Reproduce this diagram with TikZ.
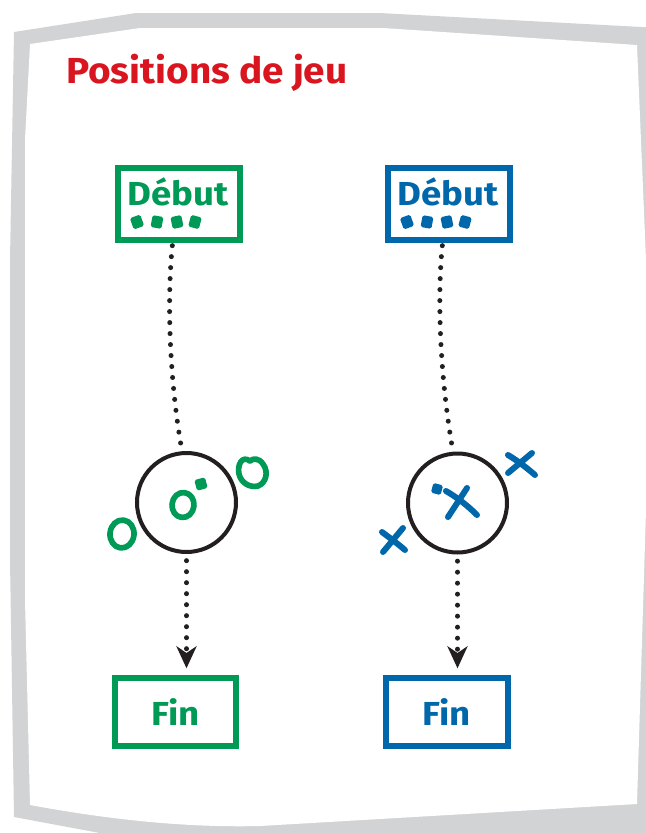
\documentclass[tikz,border=0pt]{standalone}
\usepackage{fontspec}
\setmainfont{Fira Sans}
\usetikzlibrary{arrows.meta,calc}
\definecolor{vert}{HTML}{009A57}
\definecolor{bleu}{HTML}{0068AA}
\definecolor{rouge}{HTML}{D9161F}
\definecolor{gris}{HTML}{D1D3D4}
\definecolor{noir}{HTML}{231F20}
\tikzset{
  boite/.style={rectangle, line width=0.18cm, inner sep=0pt, font=\fontsize{28.4}{32}\selectfont\bfseries\addfontfeature{FakeStretch=1.1}},
  rond/.style={circle, draw=noir, line width=0.12cm, inner sep=0pt, minimum size=2.97cm},
  etiq/.style={inner sep=0pt, font=\fontsize{28.4}{32}\selectfont\bfseries\addfontfeature{FakeStretch=1.1}},
  pointille/.style={draw=noir, line width=0.15cm, line cap=round, dash pattern=on 0pt off 0.33cm},
  marque/.style={line width=0.18cm, line cap=round, line join=round},
  anneau/.style={line width=0.17cm, line cap=round, line join=round},
  fleche/.style={-{Stealth[length=0.66cm, width=0.6cm, inset=0.2cm]}},
}
\begin{document}
\begin{tikzpicture}[x=0.03cm,y=-0.03cm]
\useasboundingbox (0,0) rectangle (646,833);
\begin{scope}
\clip (0,0) rectangle (646,833);
\fill[gris] (14,32) -- (136,13) -- (379,13) -- (660,28) -- (660,850) -- (191,850) -- (14,817) -- (10,560) -- (10,260) -- cycle;
\fill[white] (30,44) -- (140,28) -- (383,28) -- (637,45) -- (646,260) -- (646,510) -- (637,804) -- (260,826) .. controls (180,828) and (100,818) .. (30,805) -- (25,600) -- (25,140) -- cycle;
\end{scope}

% title
\node[anchor=base west, inner sep=0pt, text=rouge, font=\fontsize{30.9}{36}\selectfont\bfseries\addfontfeature{FakeStretch=1.07}] (titre) at (66,83) {Positions de jeu};

% start boxes
\node[boite, draw=vert, minimum width=3.66cm, minimum height=2.16cm] (d1) at (179,204) {};
\node[boite, draw=bleu, minimum width=3.66cm, minimum height=2.16cm] (d2) at (449,204) {};
\node[etiq, anchor=base, text=vert] (t1) at (178,205) {Début};
\node[etiq, anchor=base, text=bleu] (t2) at (448,205) {Début};
\foreach \x/\a in {137/20,157/-10,177/12,195/-15}
  \fill[vert, rounded corners=1.5pt, rotate around={\a:(\x,222)}] (\x-5.5,216) rectangle (\x+5.5,228);
\foreach \x/\a in {407/20,427/-10,447/12,465/-15}
  \fill[bleu, rounded corners=1.5pt, rotate around={\a:(\x,222)}] (\x-5.5,216) rectangle (\x+5.5,228);

% circles
\node[rond] (c1) at (186.5,502.5) {};
\node[rond] (c2) at (457.5,503) {};

% end boxes
\node[boite, draw=vert, text=vert, minimum width=3.63cm, minimum height=2.04cm] (f1) at (175.5,712) {Fin};
\node[boite, draw=bleu, text=bleu, minimum width=3.66cm, minimum height=2.04cm] (f2) at (447,712) {Fin};

% connectors
\draw[pointille, shorten <=0.08cm, shorten >=0.15cm] ($(d1.south west)!0.45!(d1.south east)$) .. controls +(-6,60) and +(-12,-70) .. (c1.95);
\draw[pointille, shorten <=0.08cm, shorten >=0.15cm] ($(d2.south west)!0.45!(d2.south east)$) .. controls +(-6,60) and +(-12,-70) .. (c2.95);
\coordinate (e1) at (c1.south |- f1.north);
\coordinate (e2) at (c2.south |- f2.north);
\draw[pointille, fleche, shorten <=0.2cm, shorten >=0.2cm] (c1.south) -- (e1);
\draw[pointille, fleche, shorten <=0.2cm, shorten >=0.2cm] (c2.south) -- (e2);

% green marks
\draw[anneau, vert, rotate around={-6:(183,505)}] (183,505) ellipse [x radius=11, y radius=12.5];
\fill[vert, rounded corners=1.5pt, rotate around={15:(201,484)}] (195.5,478.5) rectangle (206.5,489.5);
\draw[anneau, vert, rotate around={-6:(122,534)}] (122,534) ellipse [x radius=12, y radius=14];
\draw[anneau, vert] (250,461) .. controls (242,455) and (237,465) .. (239,474) .. controls (241,483) and (250,488) .. (258,486) .. controls (266,483) and (269,472) .. (263,464) .. controls (259,458) and (253,458) .. (250,461);

% blue marks
\draw[marque, bleu] (446,491) .. controls (458,498) and (468,506) .. (477,515);
\draw[marque, bleu] (467,488) -- (448,517);
\fill[bleu, rounded corners=1.5pt, rotate around={-15:(437,489)}] (432,484) rectangle (442,494);
\draw[marque, bleu] (508,455) .. controls (518,461) and (527,468) .. (535,475);
\draw[marque, bleu] (532,453) -- (508,473);
\draw[marque, bleu] (382,532) .. controls (390,538) and (398,544) .. (405,550);
\draw[marque, bleu] (403,528) -- (383,552);
\end{tikzpicture}
\end{document}
